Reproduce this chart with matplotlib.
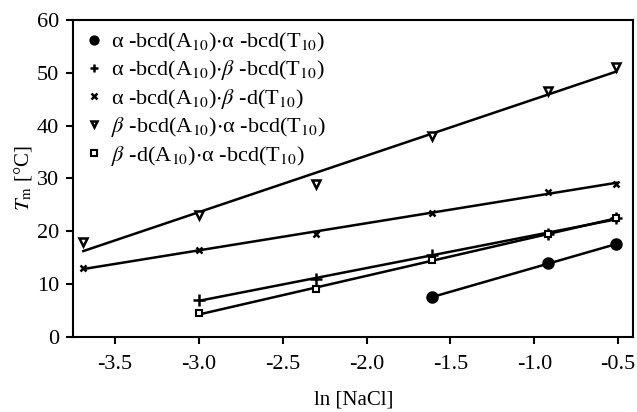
import numpy as np
import matplotlib
matplotlib.use('Agg')
import matplotlib.pyplot as plt

plt.rcParams['font.family'] = ['Liberation Serif', 'DejaVu Serif']
plt.rcParams['mathtext.fontset'] = 'stix'

# ln [NaCl] values and melting temperatures
x_a = [-1.61, -0.92, -0.51]
tm_a = [7.5, 14.0, 17.5]

x_b = [-3.00, -2.30, -1.61, -0.92, -0.51]
tm_b = [7.0, 11.0, 15.5, 19.5, 22.5]

x_c = [-3.69, -3.00, -2.30, -1.61, -0.92, -0.51]
tm_c = [13.0, 16.5, 19.5, 23.5, 27.5, 29.0]

x_d = [-3.69, -3.00, -2.30, -1.61, -0.92, -0.51]
tm_d = [18.0, 23.0, 29.0, 38.0, 46.5, 51.0]

x_e = [-3.00, -2.30, -1.61, -0.92, -0.51]
tm_e = [4.5, 9.0, 14.5, 19.5, 22.5]

labels = [
    r'α -bcd(A$_{10}$)$\cdot$α -bcd(T$_{10}$)',
    r'α -bcd(A$_{10}$)$\cdot$$\beta$ -bcd(T$_{10}$)',
    r'α -bcd(A$_{10}$)$\cdot$$\beta$ -d(T$_{10}$)',
    r'$\beta$ -bcd(A$_{10}$)$\cdot$α -bcd(T$_{10}$)',
    r'$\beta$ -d(A$_{10}$)$\cdot$α -bcd(T$_{10}$)',
]

styles = [
    dict(marker='o', ms=8, mfc='black', mec='black'),
    dict(marker='+', ms=8, mec='black', mew=1.8),
    dict(marker='x', ms=5, mec='black', mew=1.8),
    dict(marker='v', ms=6, mfc='white', mec='black', mew=1.8),
    dict(marker='s', ms=5, mfc='white', mec='black', mew=1.5),
]

series = [(x_a, tm_a), (x_b, tm_b), (x_c, tm_c), (x_d, tm_d), (x_e, tm_e)]

fig = plt.figure(figsize=(6.37, 4.12), dpi=100)
ax = fig.add_axes([0.115, 0.182, 0.879, 0.77])

for (xs, ys), st, lab in zip(series, styles, labels):
    xs = np.array(xs)
    ys = np.array(ys)
    # linear fit through each data set
    k, b = np.polyfit(xs, ys, 1)
    ax.plot(xs, k * xs + b, color='black', lw=1.8, zorder=2)
    ax.plot(xs, ys, ls='none', label=lab, zorder=3, **st)

ax.set_xlim(-3.75, -0.41)
ax.set_ylim(0, 60)
ax.set_xticks([-3.5, -3.0, -2.5, -2.0, -1.5, -1.0, -0.5])
ax.set_xticklabels(['-3.5', '-3.0', '-2.5', '-2.0', '-1.5', '-1.0', '-0.5'])
ax.set_yticks(range(0, 61, 10))
ax.tick_params(direction='out', length=5, width=1.5, labelsize=16, pad=5)
ax.tick_params(axis='x', pad=8)
for sp in ax.spines.values():
    sp.set_linewidth(1.5)

ax.set_xlabel('ln [NaCl]', fontsize=15, labelpad=12)
ax.set_ylabel(r'$T_{\rm m}$ [°C]', fontsize=15, labelpad=2)

ax.legend(loc='upper left', frameon=False, fontsize=16, handletextpad=0.3,
          labelspacing=0.2, borderaxespad=0.2, borderpad=0.3,
          handlelength=0.9, markerscale=0.8)

fig.savefig('out.png', dpi=100)
